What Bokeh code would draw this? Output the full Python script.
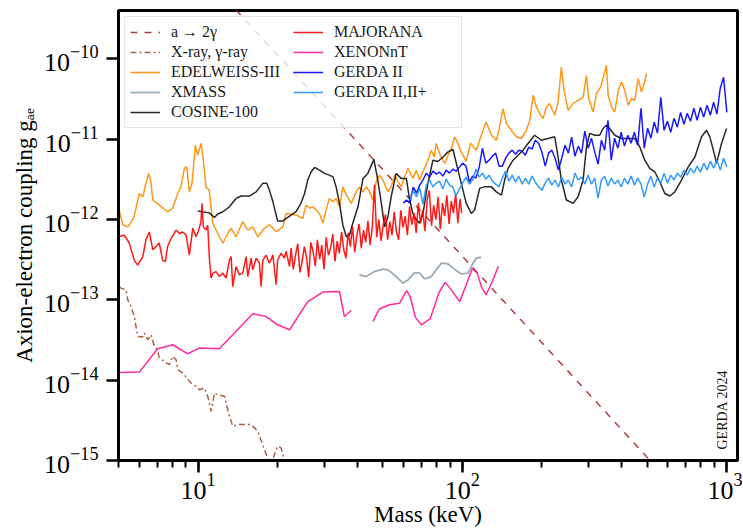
from bokeh.plotting import figure
from bokeh.models import Range1d, FixedTicker, Legend, LegendItem, Label
from bokeh.embed import file_html
from bokeh.resources import INLINE
import math

NAN = float("nan")

# ---------------- data (mass in keV, coupling g_ae) ----------------
a_to_2gamma = [(10.0, 1.33e-9), (1000.0, 9.2e-17)]

xray_gamma = [
    (5.03, 1.45e-13), (5.11, 1.40e-13), (5.34, 1.33e-13), (5.42, 1.0e-13), (5.57, 8.3e-14),
    (5.74, 6.2e-14), (5.91, 3.5e-14), (6.18, 3.44e-14), (6.26, 3.86e-14), (6.45, 3.19e-14),
    (6.64, 3.67e-14), (6.83, 2.63e-14), (7.03, 2.39e-14), (7.13, 1.89e-14), (7.45, 1.71e-14),
    (7.79, 1.56e-14), (8.02, 1.98e-14), (8.26, 1.8e-14), (8.38, 1.35e-14), (8.75, 1.23e-14),
    (9.27, 9.7e-15), (9.55, 8.8e-15), (9.83, 8.4e-15), (10.1, 7.6e-15), (10.57, 8.0e-15),
    (10.88, 6.3e-15), (11.03, 5.2e-15), (11.2, 4.1e-15), (11.37, 5.2e-15), (11.53, 6.9e-15),
    (11.88, 6.6e-15), (12.59, 6.3e-15), (13.14, 3.55e-15), (13.53, 2.67e-15), (14.14, 2.8e-15),
    (14.98, 2.8e-15), (15.88, 2.8e-15), (16.34, 2.55e-15), (16.83, 2.31e-15), (17.83, 1.37e-15),
    (18.9, 8.2e-16), (19.45, 1.19e-15), (20.0, 1.5e-15), (20.6, 1.44e-15), (21.2, 1.03e-15),
    (21.7, 7.7e-16),
]

edelweiss = [
    (5.03, 1.31e-12), (5.19, 8.6e-13), (5.42, 8.1e-13), (5.57, 9.1e-13), (5.72, 1.08e-12),
    (6.0, 2.11e-12), (6.18, 1.92e-12), (6.35, 2.84e-12), (6.51, 3.75e-12), (6.64, 2.84e-12),
    (6.74, 1.75e-12), (7.13, 1.51e-12), (7.67, 1.25e-12), (8.02, 1.38e-12), (8.38, 2.11e-12),
    (8.62, 2.55e-12), (8.87, 4.33e-12), (9.06, 4.53e-12), (9.27, 2.21e-12), (9.49, 2.82e-12),
    (9.77, 8.4e-12), (9.97, 6.3e-12), (10.26, 8.85e-12), (10.42, 6.3e-12), (10.72, 2.55e-12),
    (11.03, 2.32e-12), (11.37, 8.97e-13), (11.70, 7.4e-13), (12.41, 5.06e-13), (12.96, 6.74e-13),
    (13.34, 7.78e-13), (13.93, 6.1e-13), (14.76, 9.4e-13), (15.42, 7.4e-13), (16.11, 8.1e-13),
    (16.83, 6.1e-13), (17.83, 7.8e-13), (18.62, 8.6e-13), (19.75, 7.05e-13), (20.94, 8.1e-13),
    (21.54, 1.19e-12), (23.5, 1.14e-12), (24.9, 1.03e-12), (25.6, 1.51e-12), (26.4, 1.38e-12),
    (27.2, 1.44e-12), (28.0, 1.31e-12), (28.8, 1.19e-12), (29.7, 8.97e-13), (30.5, 1.31e-12),
    (31.4, 1.83e-12), (32.4, 1.66e-12), (33.3, 1.83e-12), (34.3, 1.44e-12), (35.3, 2.55e-12),
    (36.4, 2.01e-12), (38.0, 1.59e-12), (39.7, 2.21e-12), (40.8, 2.55e-12), (42.1, 2.21e-12),
    (43.3, 2.55e-12), (44.6, 2.21e-12), (45.9, 1.75e-12), (47.2, 2.95e-12), (48.6, 3.57e-12),
    (50.1, 3.1e-12), (52.3, 2.21e-12), (53.8, 2.55e-12), (55.4, 3.57e-12), (57.1, 2.95e-12),
    (58.7, 2.55e-12), (60.5, 3.4e-12), (62.3, 4.33e-12), (65.0, 3.25e-12), (67.0, 4.12e-12),
    (68.9, 3.1e-12), (71.0, 3.93e-12), (74.1, 5.48e-12), (76.3, 7.3e-12), (78.2, 6.0e-12),
    (79.7, 8.85e-12), (82.0, 6.64e-12), (85.7, 4.99e-12), (88.3, 6.3e-12), (90.9, 7.66e-12),
    (93.5, 1.07e-11), (96.3, 8.85e-12), (99.1, 6.9e-12), (103.5, 5.3e-12), (107.5, 8.9e-12),
    (113.0, 7.3e-12), (118.0, 1.12e-11), (123.0, 1.64e-11), (129.0, 1.12e-11), (134.5, 9.7e-12),
    (138.0, 1.36e-11), (142.6, 2.4e-11), (146.8, 1.57e-11), (153.3, 1.29e-11), (160.0, 1.07e-11),
    (167.4, 1.02e-11), (174.8, 1.29e-11), (179.9, 1.72e-11), (185.3, 3.52e-11), (190.7, 2.52e-11),
    (196.3, 2.08e-11), (202.2, 1.81e-11), (208.0, 2.52e-11), (214.0, 2.77e-11), (223.8, 1.99e-11),
    (230.4, 2.9e-11), (237.0, 7.9e-11), (242.7, 4.06e-11), (251.3, 2.29e-11), (262.6, 2.77e-11),
    (274.3, 3.05e-11), (286.5, 3.35e-11), (295.0, 6.24e-11), (300.8, 3.21e-11), (312.6, 2.18e-11),
    (322.0, 3.7e-11), (334.0, 4.47e-11), (351.0, 8.3e-11), (356.4, 3.52e-11), (366.8, 2.52e-11),
    (377.5, 2.18e-11), (388.9, 4.06e-11), (400.0, 5.15e-11), (412.0, 4.06e-11), (424.5, 2.64e-11),
    (436.5, 3.21e-11), (449.5, 3.05e-11), (463.0, 5.67e-11), (476.5, 3.87e-11), (487.7, 4.92e-11),
    (497.7, 6.55e-11),
]

xmass = [
    (40.8, 2.05e-13), (43.3, 1.95e-13), (46.5, 2.25e-13), (50.1, 2.41e-13), (52.3, 2.36e-13),
    (56.2, 1.95e-13), (59.6, 1.61e-13), (62.3, 1.77e-13), (66.0, 2.18e-13), (68.9, 2.15e-13),
    (72.0, 1.82e-13), (76.3, 1.95e-13), (79.7, 2.36e-13), (83.3, 2.86e-13), (88.3, 2.8e-13),
    (93.5, 2.41e-13), (99.1, 2.1e-13), (105.1, 2.15e-13), (109.8, 2.86e-13), (113.0, 3.3e-13),
    (118.0, 3.39e-13),
]

cosine = [
    (9.97, 1.28e-12), (11.03, 1.21e-12), (11.53, 1.06e-12), (11.88, 1.17e-12), (12.41, 1.25e-12),
    (13.14, 1.44e-12), (13.93, 1.83e-12), (14.55, 1.96e-12), (15.64, 1.96e-12), (16.59, 2.21e-12),
    (17.58, 2.82e-12), (18.2, 2.82e-12), (18.62, 2.32e-12), (19.2, 1.66e-12), (20.0, 9.6e-13),
    (20.94, 9.6e-13), (22.2, 1.1e-12), (23.5, 1.25e-12), (24.5, 1.59e-12), (25.3, 2.11e-12),
    (26.0, 3.1e-12), (26.8, 3.93e-12), (27.6, 4.45e-12), (28.8, 4.12e-12), (30.1, 3.75e-12),
    (31.4, 3.57e-12), (32.4, 3.4e-12), (33.3, 2.55e-12), (34.3, 1.59e-12), (35.3, 8.55e-13),
    (36.4, 6.1e-13), (37.4, 6.4e-13), (38.5, 9.0e-13), (40.3, 1.44e-12), (42.1, 3.25e-12),
    (43.9, 3.75e-12), (46.3, 5.6e-12), (48.0, 2.95e-12), (49.4, 1.59e-12), (50.8, 8.1e-13),
    (52.3, 1.08e-12), (53.8, 1.92e-12), (56.2, 3.75e-12), (58.7, 3.25e-12), (61.4, 3.25e-12),
    (63.2, 1.75e-12), (65.0, 1.19e-12), (67.0, 9.9e-13), (68.9, 9.0e-13), (71.0, 1.19e-12),
    (74.1, 2.82e-12), (77.4, 5.48e-12), (80.9, 5.27e-12), (84.5, 6.0e-12), (88.3, 6.95e-12),
    (92.2, 7.45e-12), (94.9, 5.03e-12), (99.1, 2.82e-12), (103.5, 1.59e-12), (108.2, 1.19e-12),
    (111.3, 1.31e-12), (116.3, 2.44e-12), (121.5, 2.55e-12), (128.8, 2.55e-12), (134.5, 2.21e-12),
    (140.6, 2.01e-12), (144.6, 3.1e-12), (149.0, 4.33e-12), (155.6, 5.48e-12), (162.5, 6.3e-12),
    (169.8, 7.3e-12), (177.3, 8.85e-12), (187.8, 1.12e-11), (199.0, 9.7e-12), (211.2, 1.02e-11),
    (223.8, 1.07e-11), (230.4, 6.0e-12), (237.0, 3.1e-12), (247.7, 1.75e-12), (262.6, 1.59e-12),
    (274.3, 1.92e-12), (286.5, 3.1e-12), (295.0, 8.0e-12), (303.5, 1.18e-11), (317.0, 1.12e-11),
    (331.0, 1.12e-11), (341.0, 1.36e-11), (351.0, 1.49e-11), (361.0, 1.36e-11), (377.5, 1.12e-11),
    (400.0, 1.02e-11), (449.5, 1.02e-11), (469.6, 8.0e-12), (490.3, 5.48e-12), (512.3, 4.33e-12),
    (535.0, 3.93e-12), (559.0, 2.95e-12), (584.0, 2.11e-12), (610.0, 1.96e-12), (637.0, 2.21e-12),
    (675.0, 3.1e-12), (716.0, 4.53e-12), (759.0, 6.0e-12), (804.0, 1.07e-11), (840.0, 1.29e-11),
    (864.5, 1.07e-11), (891.0, 7.3e-12), (917.0, 5.0e-12), (957.0, 8.85e-12), (1000.0, 1.36e-11),
]

majorana = [
    (5.03, 6.1e-13), (5.26, 6.4e-13), (5.49, 5.1e-13), (5.74, 3.1e-13), (5.91, 2.7e-13),
    (6.18, 3.45e-13), (6.35, 5.6e-13), (6.54, 7.0e-13), (6.74, 4.2e-13), (6.93, 4.6e-13),
    (7.13, 5.1e-13), (7.35, 3.1e-13), (7.52, 3.0e-13), (7.67, 4.6e-13), (7.90, 5.8e-13),
    (8.26, 7.4e-13), (8.50, 6.7e-13), (8.75, 7.0e-13), (9.01, 6.4e-13), (9.27, 3.6e-13),
    (9.55, 7.8e-13), (9.83, 6.1e-13), (10.06, 7.4e-13), (10.26, 9.4e-13), (10.35, 1.59e-12),
    (10.47, 8.1e-13), (10.72, 7.4e-13), (10.88, 8.5e-13), (11.03, 3.45e-13), (11.2, 1.86e-13),
    (11.37, 2.15e-13), (11.70, 2.25e-13), (12.04, 1.95e-13), (12.41, 2.15e-13), (12.77, 1.86e-13),
    (13.14, 3.1e-13), (13.34, 3.45e-13), (13.53, 1.46e-13), (13.93, 2.6e-13), (14.33, 2.05e-13),
    (14.76, 2.15e-13), (15.2, 3.45e-13), (15.42, 1.95e-13), (15.88, 3.3e-13), (16.11, 2.36e-13),
    (16.59, 3.3e-13), (17.07, 2.86e-13), (17.32, 1.46e-13), (17.58, 3.1e-13), (18.1, 3.6e-13),
    (18.62, 2.86e-13), (19.2, 3.6e-13), (19.75, 1.54e-13), (20.0, 3.1e-13), (20.6, 3.8e-13),
    (21.2, 3.3e-13), (21.54, 4.0e-13), (22.2, 2.6e-13),
    (22.5, 4.4e-13), (22.93, 2.4e-13), (23.38, 3.6e-13), (23.83, 5.0e-13), (24.29, 2.2e-13),
    (24.76, 3.0e-13), (25.24, 4.6e-13), (25.72, 3.4e-13), (26.22, 1.9e-13), (26.72, 5.2e-13),
    (27.24, 4.0e-13), (27.77, 2.6e-13), (28.30, 5.6e-13), (28.85, 3.2e-13), (29.40, 4.8e-13),
    (29.97, 2.4e-13), (30.55, 6.0e-13), (31.14, 3.6e-13), (31.74, 4.4e-13), (32.35, 6.6e-13),
    (32.98, 3.0e-13), (33.61, 5.4e-13), (34.26, 3.8e-13), (34.92, 7.0e-13), (35.60, 4.2e-13),
    (36.28, 3.3e-13), (36.98, 6.8e-13), (37.70, 4.6e-13), (38.42, 8.2e-13), (39.16, 3.9e-13),
    (39.92, 6.4e-13), (40.69, 8.8e-13), (41.48, 4.4e-13), (42.28, 7.4e-13), (43.09, 5.2e-13),
    (43.93, 9.6e-13), (44.77, 4.8e-13), (45.64, 8.0e-13), (46.52, 2.7e-12), (47.42, 6.0e-13),
    (48.33, 1.0e-12), (49.26, 5.4e-13), (50.21, 8.6e-13), (51.18, 1.15e-12), (52.17, 5.6e-13),
    (53.18, 9.4e-13), (54.21, 6.4e-13), (55.25, 1.25e-12), (56.32, 7.0e-13), (57.41, 5.6e-13),
    (58.51, 1.3e-12), (59.64, 8.0e-13), (60.80, 1.1e-12), (61.97, 6.4e-13), (63.17, 1.45e-12),
    (64.39, 8.6e-13), (65.63, 1.2e-12), (66.89, 6.8e-13), (68.19, 1.6e-12), (69.50, 9.0e-13),
    (70.84, 1.3e-12), (72.21, 7.2e-13), (73.61, 1.75e-12), (75.03, 2.3e-12), (76.47, 8.4e-13),
    (77.95, 1.5e-12), (79.45, 1.0e-12), (80.99, 1.9e-12), (82.55, 7.6e-13), (84.14, 1.6e-12),
    (85.77, 1.1e-12), (87.42, 2.0e-12), (89.11, 8.8e-13), (90.83, 1.7e-12), (92.58, 1.2e-12),
    (94.37, 2.1e-12), (96.19, 9.0e-13), (98.05, 1.8e-12), (99.4, 1.2e-12),
]

xenonnt = [
    (5.03, 1.25e-14), (6.0, 1.26e-14), (7.03, 2.46e-14), (8.02, 2.76e-14), (9.14, 2.13e-14),
    (10.1, 2.51e-14), (12.04, 2.46e-14), (16.11, 6.7e-14), (18.1, 6.2e-14), (20.0, 4.89e-14),
    (22.2, 4.24e-14), (26.0, 9.5e-14), (29.7, 1.25e-13), (34.3, 1.27e-13), (35.8, 6.2e-14),
    (38.0, 7.36e-14), (NAN, NAN),
    (45.9, 5.4e-14), (48.6, 7.7e-14), (53.0, 8.7e-14), (57.9, 9.1e-14), (61.6, 1.30e-13),
    (63.5, 1.10e-13), (66.4, 6.1e-14), (69.9, 4.89e-14), (75.6, 5.8e-14), (81.5, 1.22e-13),
    (86.2, 1.65e-13), (90.9, 1.33e-13), (97.7, 9.5e-14), (103.5, 1.54e-13), (109.1, 2.46e-13),
    (114.0, 2.15e-13), (118.0, 1.46e-13), (123.0, 1.15e-13), (129.0, 1.61e-13), (136.9, 2.61e-13),
]

gerda_mass = [
    59.8, 61.5, 63.3, 65.2, 67.1, 69.0, 71.0, 73.1, 75.2, 77.4,
    79.7, 82.0, 84.4, 86.9, 89.4, 92.0, 94.7, 97.5, 100.3, 103.3,
    106.3, 109.4, 112.6, 115.9, 119.2, 122.7, 126.3, 130.0, 133.8, 137.7,
    141.7, 145.8, 150.1, 154.5, 159.0, 163.6, 168.4, 173.3, 178.4, 183.6,
    188.9, 194.5, 200.1, 206.0, 212.0, 218.2, 224.5, 231.1, 237.8, 244.8,
    251.9, 259.3, 266.8, 274.6, 282.6, 290.9, 299.4, 308.1, 317.1, 326.4,
    335.9, 345.7, 355.8, 366.2, 376.9, 387.9, 399.2, 410.8, 422.8, 435.2,
    447.9, 460.9, 474.4, 488.2, 502.5, 517.2, 532.3, 547.8, 563.8, 580.3,
    597.2, 614.7, 632.6, 651.1, 670.1, 689.6, 709.8, 730.5, 751.8, 773.8,
    796.4, 819.6, 843.6, 868.2, 893.5, 919.6, 946.5, 974.1, 1002.6,
]

gerda2_g = [
    1.6e-12, 1.75e-12, 1.6e-12, 2.54e-12, 2.13e-12, 2.68e-12, 3.1e-12, 3.78e-12, 3.37e-12, 4.0e-12,
    3.67e-12, 3.89e-12, 3.47e-12, 4.12e-12, 3.78e-12, 4.24e-12, 4.0e-12, 4.49e-12, 5.03e-12, 4.62e-12,
    2.92e-12, 3.47e-12, 3.28e-12, 4.49e-12, 7.73e-12, 5.03e-12, 5.48e-12, 6.15e-12, 6.7e-12, 4.62e-12,
    4.62e-12, 5.8e-12, 6.7e-12, 7.3e-12, 6.5e-12, 7.3e-12, 7.1e-12, 6.3e-12, 7.96e-12, 7.52e-12,
    9.7e-12, 8.9e-12, 6.9e-12, 4.62e-12, 6.7e-12, 7.3e-12, 5.8e-12, 4.12e-12, 5.8e-12, 8.4e-12,
    6.7e-12, 1.06e-11, 6.15e-12, 8.2e-12, 6.7e-12, 1.26e-11, 7.73e-12, 1.03e-11, 6.9e-12, 4.89e-12,
    9.7e-12, 7.3e-12, 1.72e-11, 5.48e-12, 1.03e-11, 7.73e-12, 1.22e-11, 8.2e-12, 1.12e-11, 8.9e-12,
    1.22e-11, 8.4e-12, 2.43e-11, 7.73e-12, 1.37e-11, 1.03e-11, 1.63e-11, 1.19e-11, 3.33e-11, 1.29e-11,
    1.67e-11, 1.22e-11, 1.82e-11, 1.41e-11, 2.16e-11, 1.53e-11, 2.1e-11, 1.67e-11, 2.43e-11, 1.72e-11,
    2.5e-11, 1.88e-11, 2.64e-11, 1.99e-11, 2.88e-11, 2.05e-11, 4.31e-11, 5.89e-11, 2.16e-11,
]

gerda2plus_g = [
    1.75e-12, 2.32e-12, 1.91e-12, 2.46e-12, 1.56e-12, 2.68e-12, 3.1e-12, 2.54e-12, 2.84e-12, 3.01e-12,
    2.39e-12, 3.18e-12, 2.68e-12, 2.54e-12, 1.96e-12, 2.39e-12, 2.84e-12, 3.37e-12, 2.76e-12, 3.1e-12,
    4.24e-12, 3.37e-12, 3.78e-12, 3.18e-12, 3.57e-12, 3.01e-12, 2.76e-12, 2.54e-12, 3.28e-12, 4.0e-12,
    3.01e-12, 3.57e-12, 2.92e-12, 3.47e-12, 2.76e-12, 3.28e-12, 2.76e-12, 3.47e-12, 2.92e-12, 2.54e-12,
    2.32e-12, 2.84e-12, 3.28e-12, 2.68e-12, 3.1e-12, 2.54e-12, 3.37e-12, 2.76e-12, 3.1e-12, 2.54e-12,
    3.78e-12, 3.1e-12, 3.37e-12, 2.76e-12, 3.57e-12, 2.76e-12, 3.28e-12, 1.85e-12, 3.1e-12, 3.47e-12,
    2.61e-12, 3.28e-12, 2.76e-12, 3.1e-12, 2.54e-12, 3.28e-12, 2.76e-12, 3.47e-12, 2.68e-12, 3.28e-12,
    2.76e-12, 1.91e-12, 2.76e-12, 3.47e-12, 2.54e-12, 3.28e-12, 2.84e-12, 3.78e-12, 2.84e-12, 3.57e-12,
    3.1e-12, 3.78e-12, 3.37e-12, 4.12e-12, 3.57e-12, 4.37e-12, 3.78e-12, 4.62e-12, 3.89e-12, 5.03e-12,
    4.12e-12, 5.33e-12, 4.37e-12, 5.48e-12, 4.12e-12, 5.8e-12, 4.49e-12,
]
gerda2plus_mass = gerda_mass[2:]

y_ticks = [1e-15, 1e-14, 1e-13, 1e-12, 1e-11, 1e-10]


def split(pairs):
    return [a for a, b in pairs], [b for a, b in pairs]


SERIF = "Liberation Serif"

p = figure(width=742, height=531, x_axis_type="log", y_axis_type="log",
           x_range=Range1d(5, 1100), y_range=Range1d(1e-15, 4e-10),
           output_backend="svg", toolbar_location=None,
           min_border_left=118, min_border_right=5, min_border_top=10, min_border_bottom=71,
           background_fill_color="white", border_fill_color="white")
p.grid.visible = False
p.outline_line_color = "black"
p.outline_line_width = 3

p.xaxis.axis_label = "Mass (keV)"
p.yaxis.axis_label = "Axion-electron coupling g\u2090\u2091"
for ax in (p.xaxis[0], p.yaxis[0]):
    ax.axis_line_width = 3
    ax.axis_line_color = "black"
    ax.major_tick_line_width = 2.5
    ax.major_tick_out = 12
    ax.major_tick_in = 0
    ax.minor_tick_in = 0
    ax.minor_tick_out = 7
    ax.minor_tick_line_width = 2
    ax.major_label_text_font = SERIF
    ax.major_label_text_font_size = "26px"
    ax.major_label_text_color = "black"
    ax.axis_label_text_font = SERIF
    ax.axis_label_text_font_size = "23px"
    ax.axis_label_text_font_style = "normal"
    ax.axis_label_text_color = "black"
p.xaxis.major_label_standoff = 1
p.xaxis.axis_label_standoff = 0
p.yaxis.major_label_standoff = 8
p.yaxis.axis_label_standoff = 4
p.yaxis.ticker = FixedTicker(ticks=y_ticks)
p.yaxis.minor_tick_line_color = None

LW = 1.5
AL = 0.9
x, y = split(a_to_2gamma)
r_a2g = p.line(x, y, line_color="#a52a2a", line_width=LW, line_dash="7 7", line_alpha=AL)
x, y = split(xray_gamma)
r_xray = p.line(x, y, line_color="#a0522d", line_width=LW, line_dash="6 3 2 3", line_alpha=AL)
x, y = split(edelweiss)
r_edel = p.line(x, y, line_color="#ff8c00", line_width=LW, line_alpha=AL)
x, y = split(xmass)
r_xmass = p.line(x, y, line_color="#8ea3b0", line_width=LW + 0.3, line_alpha=AL)
x, y = split(cosine)
r_cos = p.line(x, y, line_color="#111111", line_width=LW, line_alpha=AL)
x, y = split(majorana)
r_maj = p.line(x, y, line_color="#ff0000", line_width=LW, line_alpha=AL)
x, y = split(xenonnt)
r_xen = p.line(x, y, line_color="#ff1493", line_width=LW, line_alpha=AL)
r_g2 = p.line(gerda_mass, gerda2_g, line_color="#0000ff", line_width=LW, line_alpha=AL)
r_g2p = p.line(gerda2plus_mass, gerda2plus_g, line_color="#1e90ff", line_width=LW, line_alpha=AL)

items = [
    LegendItem(label="a \u2192 2\u03b3", renderers=[r_a2g]),
    LegendItem(label="X-ray, \u03b3-ray", renderers=[r_xray]),
    LegendItem(label="EDELWEISS-III", renderers=[r_edel]),
    LegendItem(label="XMASS", renderers=[r_xmass]),
    LegendItem(label="COSINE-100", renderers=[r_cos]),
    LegendItem(label="MAJORANA", renderers=[r_maj]),
    LegendItem(label="XENONnT", renderers=[r_xen]),
    LegendItem(label="GERDA II", renderers=[r_g2]),
    LegendItem(label="GERDA II,II+", renderers=[r_g2p]),
]
legend = Legend(items=items, location="top_left", ncols=2, orientation="vertical",
                margin=6, padding=5, spacing=0,
                glyph_width=30, glyph_height=20, label_height=20, label_width=122,
                label_standoff=11,
                label_text_font=SERIF, label_text_font_size="16px", label_text_color="#1a1a1a",
                border_line_color="#cccccc", border_line_width=1,
                background_fill_color="white", background_fill_alpha=0.8)
p.add_layout(legend)

p.add_layout(Label(x=1027, y=1.37e-15, text="GERDA 2024", angle=math.pi / 2,
                   text_align="left", text_baseline="bottom",
                   text_font=SERIF, text_font_size="14px", text_color="#1a1a1a"))

open("out.html", "w").write(file_html(p, INLINE))
